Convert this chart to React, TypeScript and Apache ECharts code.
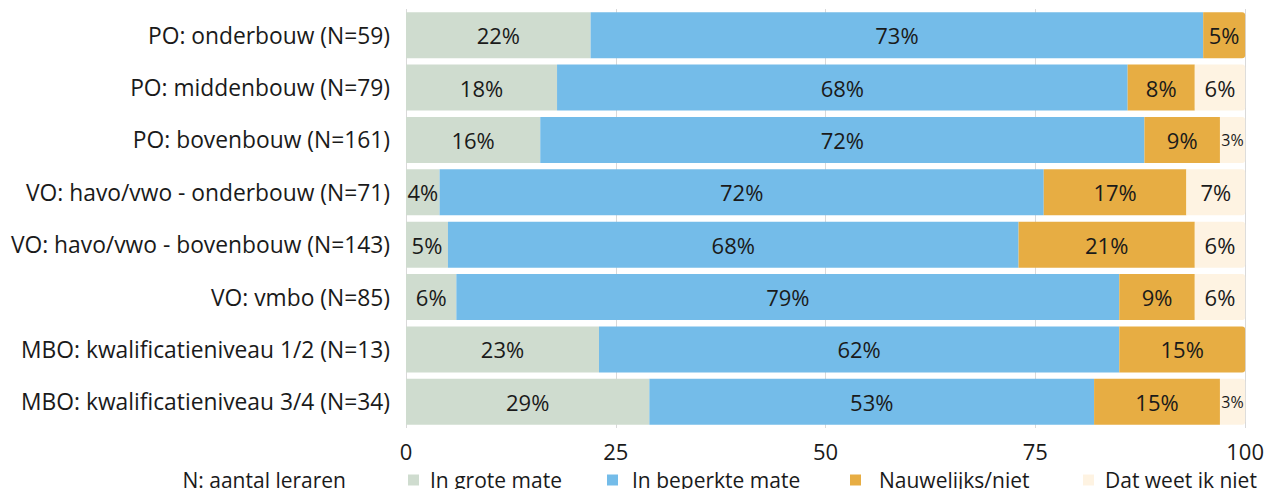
import React, { useEffect, useRef } from "react";
import * as echarts from "echarts";

const categories = [
  "PO: onderbouw (N=59)",
  "PO: middenbouw (N=79)",
  "PO: bovenbouw (N=161)",
  "VO: havo/vwo - onderbouw (N=71)",
  "VO: havo/vwo - bovenbouw (N=143)",
  "VO: vmbo (N=85)",
  "MBO: kwalificatieniveau 1/2 (N=13)",
  "MBO: kwalificatieniveau 3/4 (N=34)",
];
const seriesNames = ["In grote mate", "In beperkte mate", "Nauwelijks/niet", "Dat weet ik niet"];
const inGroteMate = [22, 18, 16, 4, 5, 6, 23, 29];
const inBeperkteMate = [73, 68, 72, 72, 68, 79, 62, 53];
const nauwelijksNiet = [5, 8, 9, 17, 21, 9, 15, 15];
const datWeetIkNiet = [0, 6, 3, 7, 6, 6, 0, 3];
const xTicks = { min: 0, max: 100, interval: 25 };
const colors = ["#cfdccf", "#74bce9", "#e7ad43", "#fef3e2"];
const FONT = "Open Sans";

export default function App() {
  const ref = useRef<HTMLDivElement>(null);
  useEffect(() => {
    if (!ref.current) return;
    const chart = echarts.init(ref.current, undefined, { renderer: "svg" });
    const all = [inGroteMate, inBeperkteMate, nauwelijksNiet, datWeetIkNiet];
    const series = all.map((arr, si) => ({
      name: seriesNames[si],
      type: "bar",
      stack: "total",
      barCategoryGap: "12%",
      itemStyle: { color: colors[si] },
      data: arr.map((v, i) => {
        const isLast = all.slice(si + 1).every((a) => a[i] === 0);
        return {
          value: v,
          itemStyle: isLast ? { borderRadius: [0, 3, 3, 0] } : undefined,
          label: {
            show: v > 0,
            fontSize: v <= 3 ? 16 : 22,
          },
        };
      }),
      label: {
        show: true,
        position: "inside",
        formatter: (p: any) => `${p.value}%`,
        color: "#1a1a1a",
        fontFamily: FONT,
        fontSize: 22,
      },
    }));
    const legendLefts = [408, 607, 850, 1083];
    const legendPads = [6, 9, 13, 6];
    chart.setOption({
      animation: false,
      textStyle: { fontFamily: FONT },
      grid: { left: 406, right: 19, top: 9, bottom: 61 },
      xAxis: {
        type: "value",
        min: xTicks.min,
        max: xTicks.max,
        interval: xTicks.interval,
        axisLine: { show: false },
        axisTick: { show: false },
        splitLine: { show: true, lineStyle: { color: "#d9d9d9", width: 1 } },
        axisLabel: { fontSize: 22, color: "#1a1a1a", margin: 12, fontFamily: FONT },
      },
      yAxis: {
        type: "category",
        inverse: true,
        data: categories,
        axisLine: { show: false },
        axisTick: { show: false },
        axisLabel: { fontSize: 22.8, color: "#1a1a1a", margin: 16, fontFamily: FONT },
      },
      legend: seriesNames.map((n, i) => ({
        data: [n],
        left: legendLefts[i],
        top: 467,
        padding: 0,
        itemWidth: 11,
        itemHeight: 11,
        itemGap: 0,
        icon: "rect",
        textStyle: {
          fontSize: 21,
          lineHeight: 26,
          color: "#1a1a1a",
          fontFamily: FONT,
          padding: [0, 0, 0, legendPads[i]],
        },
        selectedMode: false,
      })),
      graphic: [
        {
          type: "text",
          right: 1267 - 346,
          top: 467,
          style: { text: "N: aantal leraren", fontSize: 21, lineHeight: 26, fill: "#1a1a1a", fontFamily: FONT },
        },
      ],
      series,
    });
    return () => chart.dispose();
  }, []);
  return <div ref={ref} style={{ width: 1267, height: 489, position: "absolute", left: 0, top: 0 }} />;
}
